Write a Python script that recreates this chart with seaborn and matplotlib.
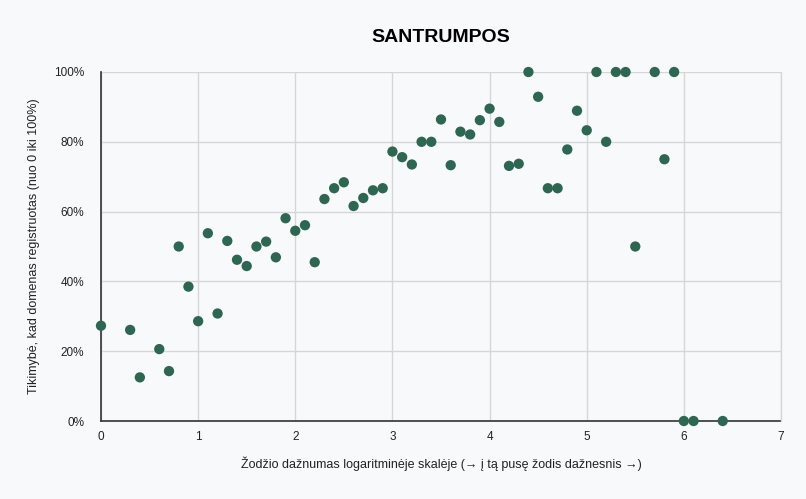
import matplotlib
matplotlib.use("Agg")
from matplotlib import pyplot as plt
from matplotlib.ticker import PercentFormatter
import pandas as pd
import seaborn as sns

freq_log = [0.0, 0.3, 0.4, 0.6, 0.7, 0.8, 0.9, 1.0, 1.1, 1.2, 1.3, 1.4, 1.5, 1.6, 1.7, 1.8, 1.9,
            2.0, 2.1, 2.2, 2.3, 2.4, 2.5, 2.6, 2.7, 2.8, 2.9, 3.0, 3.1, 3.2, 3.3, 3.4, 3.5, 3.6,
            3.7, 3.8, 3.9, 4.0, 4.1, 4.2, 4.3, 4.4, 4.5, 4.6, 4.7, 4.8, 4.9, 5.0, 5.1, 5.2, 5.3,
            5.4, 5.5, 5.7, 5.8, 5.9, 6.0, 6.1, 6.4]
registered = [27.3, 26.1, 12.5, 20.6, 14.3, 50.0, 38.5, 28.6, 53.8, 30.8, 51.6, 46.2, 44.4, 50.0,
              51.4, 46.9, 58.1, 54.5, 56.1, 45.5, 63.6, 66.7, 68.4, 61.6, 63.9, 66.1, 66.7, 77.2,
              75.6, 73.5, 80.0, 80.0, 86.4, 73.3, 82.9, 82.1, 86.2, 89.5, 85.7, 73.1, 73.7, 100.0,
              92.9, 66.7, 66.7, 77.8, 88.9, 83.3, 100.0, 80.0, 100.0, 100.0, 50.0, 100.0, 75.0,
              100.0, 0.0, 0.0, 0.0]

df = pd.DataFrame({"x": freq_log, "y": registered})

bg = "#f8f9fb"
sns.set_theme(style="whitegrid")
plt.rcParams["font.family"] = ["Liberation Sans", "DejaVu Sans"]

fig = plt.figure(figsize=(8.06, 4.99), dpi=100, facecolor=bg)
ax = fig.add_axes([101 / 806, 1 - 421 / 499, 680 / 806, 349 / 499])
ax.set_facecolor(bg)

sns.scatterplot(x="x", y="y", data=df, ax=ax, color="#2e6651", s=55, edgecolor="none",
                clip_on=False, zorder=3, legend=False)

ax.set_xlim(0, 7)
ax.set_ylim(0, 100)
ax.set_xticks(range(0, 8))
ax.set_yticks(range(0, 101, 20))
ax.yaxis.set_major_formatter(PercentFormatter(decimals=0))
ax.grid(True, color="#d6d6d6", linewidth=1)
ax.spines["top"].set_visible(False)
ax.spines["right"].set_color("#d6d6d6")
ax.spines["right"].set_linewidth(1)
for side in ["left", "bottom"]:
    ax.spines[side].set_color("#333333")
    ax.spines[side].set_linewidth(1.2)
    ax.spines[side].set_zorder(2)
ax.tick_params(axis="both", length=0, labelsize=8.5, colors="#222222")
ax.tick_params(axis="x", pad=7)
ax.tick_params(axis="y", pad=12)

ax.set_xlabel("Žodžio dažnumas logaritminėje skalėje (→ į tą pusę žodis dažnesnis →)",
              fontsize=9, color="#222222", labelpad=10)
ax.set_ylabel("Tikimybė, kad domenas registruotas (nuo 0 iki 100%)", fontsize=9,
              color="#222222", labelpad=10)
fig.text(441 / 806, 1 - 37 / 499, "SANTRUMPOS", ha="center", va="center",
         fontsize=14, fontweight="bold", color="#000000")

fig.savefig("out.png", dpi=100, facecolor=bg)
